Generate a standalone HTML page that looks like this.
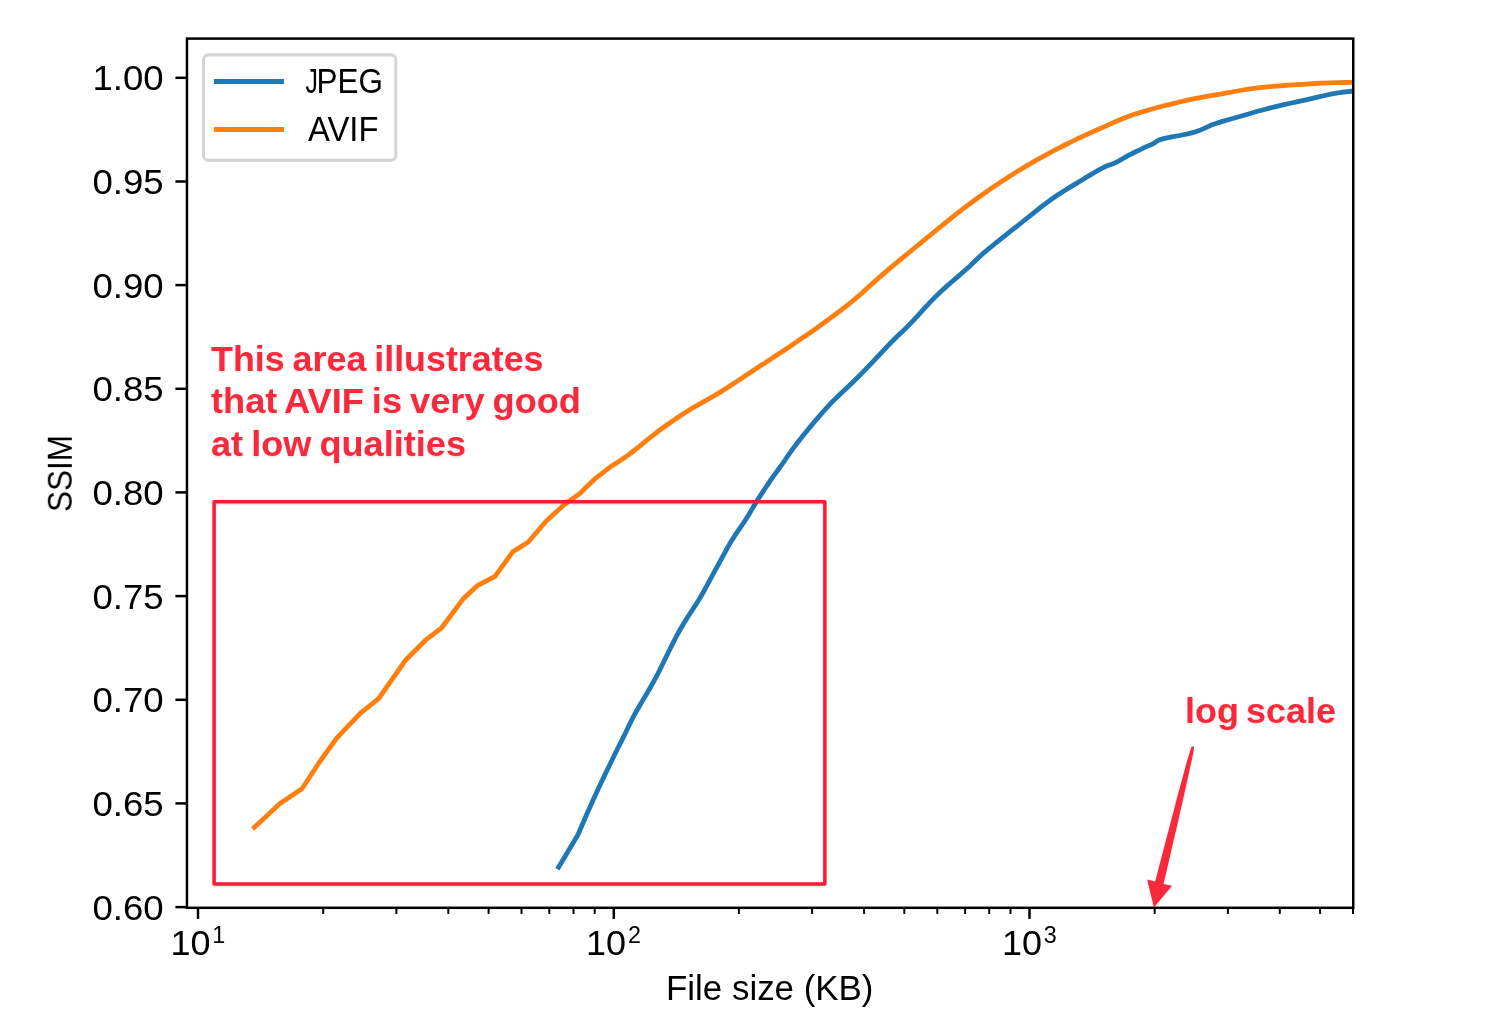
<!DOCTYPE html>
<html lang="en"><head><meta charset="utf-8"><title>JPEG vs AVIF SSIM by file size</title>
<style>
html,body{margin:0;padding:0;background:#fff;}
body{width:1500px;height:1032px;overflow:hidden;}
svg{display:block;}
text{font-family:"Liberation Sans",sans-serif;fill:#000;}
.red{fill:#f72c3d;font-weight:bold;}
</style></head><body>
<svg width="1500" height="1032" viewBox="0 0 1500 1032">
<defs>
<clipPath id="ax"><rect x="186.95" y="38.6" width="1166.3" height="869.1999999999999"/></clipPath>
<filter id="sh" x="-5%" y="-5%" width="110%" height="115%"><feDropShadow dx="0" dy="1.2" stdDeviation="1.3" flood-color="#000" flood-opacity="0.13"/></filter>
</defs>
<rect width="1500" height="1032" fill="#fff"/>
<g clip-path="url(#ax)" fill="none" stroke-linejoin="round" stroke-linecap="butt">
<polyline points="557.4,869.2 577.8,835.0 578.9,832.5 581.7,826.0 585.5,817.3 589.5,808.1 593.0,800.2 595.9,793.9 598.7,787.8 601.6,781.7 604.5,775.6 607.4,769.5 610.5,763.2 613.6,756.7 616.8,750.3 619.9,744.1 622.9,738.1 625.3,733.3 627.5,728.7 629.6,724.2 631.9,719.6 634.5,714.7 638.1,708.3 642.0,701.6 646.1,694.7 650.3,687.5 654.5,680.0 659.6,670.3 664.7,659.8 670.0,649.0 675.2,638.7 680.3,629.2 684.3,622.5 688.2,616.3 692.1,610.4 696.0,604.4 699.8,598.2 703.8,591.3 707.7,584.1 711.6,576.9 715.4,569.9 719.0,563.3 721.7,558.3 724.3,553.6 726.8,549.0 729.3,544.6 732.0,540.1 734.8,535.7 737.7,531.4 740.6,527.2 743.5,523.0 746.2,518.8 748.6,514.9 750.9,511.1 753.2,507.3 755.4,503.4 757.8,499.6 760.4,495.6 763.0,491.6 765.7,487.5 768.4,483.6 771.0,479.7 773.4,476.2 775.9,472.8 778.3,469.5 780.7,466.1 783.1,462.8 785.4,459.5 787.7,456.2 789.9,453.0 792.2,449.7 794.7,446.3 797.6,442.5 800.6,438.7 803.7,434.8 806.9,430.9 810.2,426.9 814.1,422.2 818.3,417.4 822.5,412.5 826.9,407.6 831.5,402.7 836.7,397.4 842.2,392.2 847.8,386.9 853.5,381.5 859.3,375.8 866.3,368.6 873.7,360.8 881.1,353.0 888.0,345.7 894.0,339.5 897.0,336.5 899.7,334.0 902.2,331.7 904.8,329.3 907.7,326.4 912.7,321.1 918.3,315.1 924.1,308.6 930.2,302.1 936.3,295.9 943.0,289.6 950.1,283.3 957.3,277.1 964.0,271.3 969.7,266.2 972.7,263.3 975.4,260.7 977.9,258.3 980.3,256.0 982.8,253.7 985.1,251.8 987.2,250.0 989.4,248.2 991.7,246.3 994.4,244.2 999.4,240.2 1005.1,235.6 1011.2,230.7 1017.5,225.8 1023.5,221.0 1029.3,216.4 1035.0,211.8 1040.8,207.2 1046.6,202.8 1052.5,198.5 1058.3,194.6 1064.3,190.8 1070.2,187.1 1076.0,183.6 1081.6,180.2 1086.2,177.4 1090.8,174.6 1095.2,172.0 1099.4,169.6 1103.4,167.5 1106.1,166.3 1108.6,165.3 1111.0,164.4 1113.4,163.5 1115.8,162.5 1118.2,161.3 1120.6,159.9 1123.0,158.5 1125.4,157.1 1127.9,155.7 1131.0,154.1 1134.2,152.5 1137.5,150.8 1140.7,149.3 1143.6,147.9 1145.7,146.9 1147.8,146.1 1149.7,145.3 1151.6,144.5 1153.3,143.6 1154.5,142.9 1155.6,142.1 1156.6,141.4 1157.8,140.6 1159.4,139.9 1164.7,138.4 1171.8,136.9 1179.8,135.5 1187.6,133.9 1194.5,132.2 1199.0,130.6 1203.1,128.9 1207.0,127.1 1210.9,125.3 1215.1,123.7 1220.0,122.1 1225.0,120.6 1230.1,119.2 1235.3,117.8 1240.5,116.3 1246.1,114.7 1251.8,113.0 1257.6,111.3 1263.5,109.7 1269.6,108.1 1276.7,106.4 1284.0,104.7 1291.5,103.0 1298.9,101.4 1306.0,99.8 1312.4,98.4 1318.7,96.9 1324.9,95.5 1330.8,94.2 1336.3,93.2 1340.6,92.5 1345.1,91.9 1349.2,91.5 1352.2,91.1 1353.4,91.0" stroke="#1f77b4" stroke-width="4.8"/>
<polyline points="252.6,829.0 279.7,803.8 302.0,788.8 319.5,762.0 336.9,737.9 360.2,713.3 378.6,698.7 405.7,660.0 425.5,640.2 441.3,628.2 463.0,599.1 477.5,585.6 495.0,576.3 512.8,551.7 528.3,542.0 546.3,521.0 564.7,504.2 579.3,493.9 595.5,478.3 612.0,465.7 613.0,465.1 615.8,463.4 619.5,461.0 623.6,458.3 627.5,455.6 632.9,451.5 638.8,446.8 645.0,441.7 651.3,436.6 657.5,431.8 663.6,427.3 669.8,423.0 676.0,418.7 682.2,414.5 688.5,410.5 694.6,406.8 700.8,403.3 707.0,399.8 713.2,396.3 719.5,392.6 726.4,388.3 733.3,383.8 740.2,379.2 747.3,374.5 754.4,369.8 762.1,364.8 769.8,359.7 777.7,354.6 785.5,349.4 793.2,344.2 800.7,339.1 808.3,333.9 815.8,328.7 823.0,323.5 830.0,318.4 835.9,314.0 841.7,309.6 847.3,305.3 852.6,301.0 857.8,296.7 862.0,293.1 865.8,289.6 869.6,286.1 873.6,282.4 878.1,278.4 885.7,271.9 894.3,264.7 903.4,257.1 912.7,249.5 921.7,242.1 930.4,235.0 939.1,227.9 947.8,220.8 956.5,213.9 965.3,207.2 973.9,200.8 982.6,194.5 991.3,188.4 1000.1,182.5 1008.9,176.7 1017.7,171.2 1026.6,165.9 1035.6,160.7 1044.3,155.9 1052.5,151.4 1058.8,148.1 1064.8,145.0 1070.7,142.1 1076.3,139.4 1081.6,136.9 1085.5,135.1 1089.0,133.5 1092.5,131.9 1096.1,130.3 1100.0,128.6 1105.4,126.2 1111.1,123.6 1117.0,121.0 1123.0,118.5 1129.0,116.2 1135.0,114.1 1141.1,112.2 1147.3,110.4 1153.0,108.7 1158.2,107.3 1161.2,106.5 1164.0,105.8 1166.5,105.2 1169.2,104.6 1172.0,103.9 1175.7,103.0 1179.4,102.0 1183.4,101.1 1187.6,100.1 1192.0,99.1 1198.8,97.8 1206.4,96.4 1214.2,95.1 1221.6,93.8 1228.0,92.7 1231.4,92.1 1234.4,91.5 1237.2,91.0 1240.0,90.5 1243.0,90.0 1246.6,89.4 1250.3,88.9 1254.0,88.4 1257.9,87.9 1262.0,87.4 1267.2,86.9 1272.7,86.4 1278.4,85.9 1284.2,85.5 1290.0,85.1 1296.3,84.7 1302.7,84.3 1309.1,83.9 1315.6,83.5 1322.0,83.2 1329.3,82.9 1337.6,82.7 1345.4,82.5 1351.1,82.3 1353.4,82.3" stroke="#ff7f0e" stroke-width="4.8"/>
</g>
<g stroke="#000" fill="none">
<line x1="175.4" y1="77.8" x2="186.9" y2="77.8" stroke-width="2.5"/>
<line x1="175.4" y1="181.5" x2="186.9" y2="181.5" stroke-width="2.5"/>
<line x1="175.4" y1="285.1" x2="186.9" y2="285.1" stroke-width="2.5"/>
<line x1="175.4" y1="388.8" x2="186.9" y2="388.8" stroke-width="2.5"/>
<line x1="175.4" y1="492.4" x2="186.9" y2="492.4" stroke-width="2.5"/>
<line x1="175.4" y1="596.1" x2="186.9" y2="596.1" stroke-width="2.5"/>
<line x1="175.4" y1="699.8" x2="186.9" y2="699.8" stroke-width="2.5"/>
<line x1="175.4" y1="803.4" x2="186.9" y2="803.4" stroke-width="2.5"/>
<line x1="175.4" y1="907.1" x2="186.9" y2="907.1" stroke-width="2.5"/>
<line x1="198.0" y1="907.8" x2="198.0" y2="918.9" stroke-width="2.5"/>
<line x1="613.8" y1="907.8" x2="613.8" y2="918.9" stroke-width="2.5"/>
<line x1="1029.5" y1="907.8" x2="1029.5" y2="918.9" stroke-width="2.5"/>
<line x1="323.2" y1="907.8" x2="323.2" y2="913.9" stroke-width="2"/>
<line x1="396.4" y1="907.8" x2="396.4" y2="913.9" stroke-width="2"/>
<line x1="448.3" y1="907.8" x2="448.3" y2="913.9" stroke-width="2"/>
<line x1="488.6" y1="907.8" x2="488.6" y2="913.9" stroke-width="2"/>
<line x1="521.5" y1="907.8" x2="521.5" y2="913.9" stroke-width="2"/>
<line x1="549.3" y1="907.8" x2="549.3" y2="913.9" stroke-width="2"/>
<line x1="573.5" y1="907.8" x2="573.5" y2="913.9" stroke-width="2"/>
<line x1="594.7" y1="907.8" x2="594.7" y2="913.9" stroke-width="2"/>
<line x1="738.9" y1="907.8" x2="738.9" y2="913.9" stroke-width="2"/>
<line x1="812.1" y1="907.8" x2="812.1" y2="913.9" stroke-width="2"/>
<line x1="864.1" y1="907.8" x2="864.1" y2="913.9" stroke-width="2"/>
<line x1="904.3" y1="907.8" x2="904.3" y2="913.9" stroke-width="2"/>
<line x1="937.3" y1="907.8" x2="937.3" y2="913.9" stroke-width="2"/>
<line x1="965.1" y1="907.8" x2="965.1" y2="913.9" stroke-width="2"/>
<line x1="989.2" y1="907.8" x2="989.2" y2="913.9" stroke-width="2"/>
<line x1="1010.5" y1="907.8" x2="1010.5" y2="913.9" stroke-width="2"/>
<line x1="1154.7" y1="907.8" x2="1154.7" y2="913.9" stroke-width="2"/>
<line x1="1227.9" y1="907.8" x2="1227.9" y2="913.9" stroke-width="2"/>
<line x1="1279.8" y1="907.8" x2="1279.8" y2="913.9" stroke-width="2"/>
<line x1="1320.1" y1="907.8" x2="1320.1" y2="913.9" stroke-width="2"/>
<line x1="1353.0" y1="907.8" x2="1353.0" y2="913.9" stroke-width="2"/>
</g>
<rect x="186.95" y="38.6" width="1166.3" height="869.1999999999999" fill="none" stroke="#000" stroke-width="2.5"/>
<g opacity="0.999">
<text x="92.5" y="90.2" font-size="34.8" textLength="71.2" lengthAdjust="spacingAndGlyphs">1.00</text>
<text x="92.5" y="193.9" font-size="34.8" textLength="71.2" lengthAdjust="spacingAndGlyphs">0.95</text>
<text x="92.5" y="297.5" font-size="34.8" textLength="71.2" lengthAdjust="spacingAndGlyphs">0.90</text>
<text x="92.5" y="401.2" font-size="34.8" textLength="71.2" lengthAdjust="spacingAndGlyphs">0.85</text>
<text x="92.5" y="504.8" font-size="34.8" textLength="71.2" lengthAdjust="spacingAndGlyphs">0.80</text>
<text x="92.5" y="608.5" font-size="34.8" textLength="71.2" lengthAdjust="spacingAndGlyphs">0.75</text>
<text x="92.5" y="712.2" font-size="34.8" textLength="71.2" lengthAdjust="spacingAndGlyphs">0.70</text>
<text x="92.5" y="815.8" font-size="34.8" textLength="71.2" lengthAdjust="spacingAndGlyphs">0.65</text>
<text x="92.5" y="919.5" font-size="34.8" textLength="71.2" lengthAdjust="spacingAndGlyphs">0.60</text>
<text x="170.4" y="955.2" font-size="34.8" textLength="40" lengthAdjust="spacingAndGlyphs">10</text>
<text x="212.2" y="942.7" font-size="24.2" textLength="13.0" lengthAdjust="spacingAndGlyphs">1</text>
<text x="586.1" y="955.2" font-size="34.8" textLength="40" lengthAdjust="spacingAndGlyphs">10</text>
<text x="628.0" y="942.7" font-size="24.2" textLength="13.0" lengthAdjust="spacingAndGlyphs">2</text>
<text x="1001.9" y="955.2" font-size="34.8" textLength="40" lengthAdjust="spacingAndGlyphs">10</text>
<text x="1043.7" y="942.7" font-size="24.2" textLength="13.0" lengthAdjust="spacingAndGlyphs">3</text>
<text x="666.0" y="999.7" font-size="34.4" textLength="207.5" lengthAdjust="spacingAndGlyphs">File size (KB)</text>
<text transform="translate(71.8 512.0) rotate(-90)" font-size="34.6" textLength="77" lengthAdjust="spacingAndGlyphs">SSIM</text>
</g>
<rect x="203.5" y="54.9" width="192.3" height="105.5" rx="4.8" ry="4.8" fill="#fff" fill-opacity="0.8" stroke="#d6d6d6" stroke-width="3.1"/>
<line x1="213.9" y1="81.4" x2="284" y2="81.4" stroke="#1f77b4" stroke-width="5"/>
<line x1="213.9" y1="129.4" x2="284" y2="129.4" stroke="#ff7f0e" stroke-width="5"/>
<g opacity="0.999">
<text x="305.6" y="92.6" font-size="34.2" textLength="12.4" lengthAdjust="spacingAndGlyphs">J</text>
<text x="316.6" y="92.6" font-size="34.2" textLength="66.4" lengthAdjust="spacingAndGlyphs">PEG</text>
<text x="308.0" y="140.9" font-size="34.2" textLength="70.5" lengthAdjust="spacingAndGlyphs">AVIF</text>
</g>
<g filter="url(#sh)">
<rect x="214.1" y="501.85" width="610.75" height="382.15" fill="none" stroke="#f91c35" stroke-width="3.5" stroke-linejoin="round"/>
<text class="red" x="211" y="371.2" font-size="35.6" word-spacing="-2" textLength="332.5" lengthAdjust="spacingAndGlyphs">This area illustrates</text>
<text class="red" x="211" y="413.4" font-size="35.6" word-spacing="-2" textLength="370" lengthAdjust="spacingAndGlyphs">that AVIF is very good</text>
<text class="red" x="211" y="455.5" font-size="35.6" word-spacing="-2" textLength="255" lengthAdjust="spacingAndGlyphs">at low qualities</text>
<text class="red" x="1185" y="722.6" font-size="35.6" word-spacing="-3" textLength="151" lengthAdjust="spacingAndGlyphs">log scale</text>
<polygon points="1191.8,746.3 1191.0,748.3 1189.7,752.3 1188.0,757.8 1186.1,764.5 1184.0,772.3 1181.6,781.1 1178.9,790.9 1176.1,801.5 1173.1,812.9 1169.9,825.2 1166.5,838.1 1162.9,851.9 1159.1,866.3 1155.2,881.4 1147.2,879.6 1153.9,907.6 1172.0,885.8 1163.5,884.0 1167.1,868.7 1170.5,854.0 1173.7,840.1 1176.8,826.9 1179.6,814.5 1182.3,802.8 1184.7,792.1 1186.9,782.2 1188.9,773.2 1190.6,765.3 1192.1,758.5 1193.2,752.9 1193.9,748.8 1194.1,746.8" fill="#f72c3d"/>
</g>
</svg>
</body></html>
